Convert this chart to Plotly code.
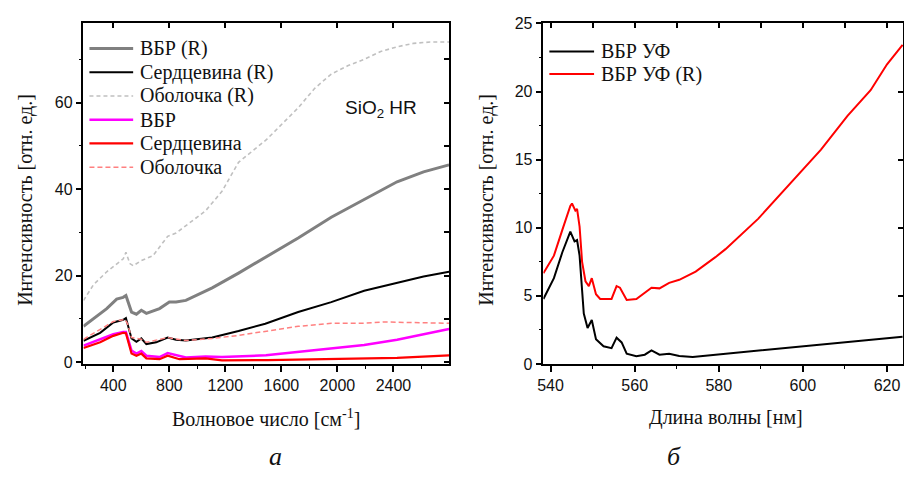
import plotly.graph_objects as go

# ---------------- Panel (a): wavenumber spectra ----------------
wn_vbr_r = [187, 259, 353, 424, 470, 490, 506, 530, 565, 600, 636, 730, 800, 848, 918, 1106, 1294, 1506, 1720, 1956, 2194, 2426, 2615, 2797]
vbr_r    = [8.3, 10.15, 12.4, 14.6, 15.0, 15.4, 13.9, 11.6, 11.1, 12.0, 11.3, 12.4, 13.9, 13.9, 14.3, 17.2, 20.6, 24.6, 28.7, 33.5, 37.6, 41.7, 44.0, 45.6]

wn_core_r = [187, 306, 400, 471, 490, 506, 530, 565, 600, 636, 706, 788, 848, 918, 1106, 1294, 1485, 1720, 1956, 2191, 2426, 2615, 2797]
core_r    = [4.96, 6.8, 9.2, 9.8, 10.2, 8.3, 5.5, 4.7, 5.5, 4.2, 4.6, 5.7, 5.2, 5.0, 5.7, 7.2, 8.9, 11.6, 13.9, 16.5, 18.3, 19.8, 20.9]

wn_clad_r = [187, 259, 353, 471, 490, 518, 542, 600, 683, 788, 848, 942, 1059, 1176, 1294, 1495, 1720, 1838, 1956, 2073, 2191, 2309, 2426, 2544, 2662, 2797]
clad_r    = [14.25, 17.95, 20.9, 23.9, 25.4, 22.8, 22.3, 23.5, 24.6, 29.1, 29.85, 32.1, 35.0, 39.5, 46.2, 51.5, 58.8, 63.3, 66.6, 68.5, 70.0, 71.8, 72.9, 73.7, 74.0, 74.0]

wn_vbr = [187, 306, 400, 471, 490, 506, 530, 565, 600, 636, 730, 788, 848, 918, 1059, 1176, 1490, 1720, 1956, 2191, 2426, 2615, 2797]
vbr    = [3.84, 5.2, 6.45, 7.0, 7.0, 5.3, 2.7, 2.0, 2.6, 1.5, 1.2, 2.1, 1.6, 1.1, 1.3, 1.2, 1.6, 2.35, 3.1, 4.0, 5.2, 6.45, 7.7]

wn_core = [187, 306, 400, 471, 490, 506, 530, 565, 600, 636, 730, 788, 872, 1059, 1176, 1500, 1956, 2426, 2797]
core    = [3.3, 4.6, 6.1, 6.8, 6.7, 4.6, 2.0, 1.5, 2.0, 0.9, 0.7, 1.5, 0.7, 0.9, 0.45, 0.5, 0.72, 1.0, 1.6]

wn_clad = [187, 306, 400, 483, 500, 530, 600, 636, 788, 918, 1106, 1294, 1495, 1720, 1956, 2191, 2333, 2545, 2797]
clad    = [5.3, 7.6, 9.4, 9.9, 9.0, 5.7, 5.3, 4.6, 5.7, 5.0, 5.5, 6.2, 7.2, 8.3, 9.0, 9.0, 9.3, 9.2, 9.0]

# ---------------- Panel (b): wavelength spectra ----------------
nm_uv = [538.3, 540.8, 542.8, 544.7, 545.7, 546.3, 546.9, 547.5, 547.9, 548.8, 549.8, 550.8, 552.6, 554.5, 555.7, 556.9, 558.1, 560.4, 562.4, 564.0, 565.9, 568.2, 570.6, 573.8, 579.2, 587.1, 600.0, 610.6, 623.7]
uv    = [4.77, 6.3, 8.2, 9.72, 9.0, 9.1, 7.95, 5.6, 3.7, 2.64, 3.23, 1.82, 1.3, 1.16, 1.93, 1.58, 0.75, 0.57, 0.68, 0.99, 0.68, 0.75, 0.59, 0.52, 0.68, 0.87, 1.3, 1.58, 2.0]

nm_uv_r = [538.3, 540.8, 542.8, 544.7, 545.1, 545.9, 546.3, 546.9, 547.5, 548.3, 549.1, 549.8, 550.8, 551.8, 554.5, 555.7, 556.5, 558.1, 560.4, 564.0, 565.9, 568.2, 570.6, 574.5, 579.2, 581.6, 589.4, 600.0, 604.3, 610.6, 616.1, 620.0, 623.7]
uv_r    = [6.66, 7.95, 9.84, 11.6, 11.78, 11.26, 11.38, 10.08, 7.5, 6.07, 5.71, 6.3, 5.12, 4.77, 4.77, 5.71, 5.6, 4.7, 4.77, 5.6, 5.55, 5.95, 6.18, 6.78, 7.84, 8.43, 10.67, 14.33, 15.74, 18.22, 20.1, 22.0, 23.42]

W, H = 904, 481
def px(x): return x / W
def py(y): return 1 - y / H

XA = [187, 2797]
YA = [-0.4, 78.3]
XB = [538.3, 623.8]
YB = [0, 25]

fig = go.Figure()
serif = "Liberation Serif"
sans = "Liberation Sans"
TXT = "#111"
FS = 20

# series: (x, y, name, color, width, dash, panel)
series = [
    (wn_vbr_r, vbr_r, "ВБР (R)", "#808080", 3, "solid", 1),
    (wn_core_r, core_r, "Сердцевина (R)", "#000000", 2, "solid", 1),
    (wn_clad_r, clad_r, "Оболочка (R)", "#c0c0c0", 1.6, "4px,3px", 1),
    (wn_vbr, vbr, "ВБР", "#ff00ff", 2.5, "solid", 1),
    (wn_core, core, "Сердцевина", "#ff0000", 2.2, "solid", 1),
    (wn_clad, clad, "Оболочка", "#ff8080", 1.5, "5px,3px", 1),
    (nm_uv, uv, "ВБР УФ", "#000000", 2, "solid", 2),
    (nm_uv_r, uv_r, "ВБР УФ (R)", "#ff0000", 2, "solid", 2),
]

leg_rows = {1: 0, 2: 0}
for x, y, name, color, width, dash, panel in series:
    xa, ya = ("x", "y") if panel == 1 else ("x2", "y2")
    fig.add_trace(go.Scatter(x=x, y=y, name=name, mode="lines",
                             line=dict(color=color, width=width, dash=dash),
                             xaxis=xa, yaxis=ya, showlegend=False))
    # hand-placed legend entry (swatch + label)
    i = leg_rows[panel]
    leg_rows[panel] += 1
    if panel == 1:
        x0, x1, tx, yy = 84, 128, 133, 42 + 24.6 * i
    else:
        x0, x1, tx, yy = 547, 592, 597, 45 + 23.5 * i
    fig.add_shape(type="line", xref="paper", yref="paper", x0=px(x0), x1=px(x1),
                  y0=py(yy), y1=py(yy), line=dict(color=color, width=width, dash=dash))
    fig.add_annotation(xref="paper", yref="paper", showarrow=False, x=px(tx), y=py(yy),
                       xanchor="left", yanchor="middle", text=name,
                       font=dict(family=serif, size=FS, color=TXT))

ydom = [py(369), py(16)]
tickfont = dict(family=sans, size=16, color=TXT)

def main_axis(dom, rng, dtick, minor_dtick, anchor):
    return dict(domain=dom, range=rng, anchor=anchor, showgrid=False, zeroline=False,
                showline=True, linecolor="black", linewidth=1.5,
                ticks="outside", ticklen=6, tickwidth=1.5, tickcolor="black",
                dtick=dtick, tick0=0, tickfont=tickfont,
                minor=dict(dtick=minor_dtick, ticks="outside", ticklen=3, tickwidth=1.2, tickcolor="black"))

def mirror_axis(rng, dtick, over, side, anchor):
    return dict(range=rng, overlaying=over, side=side, anchor=anchor, showgrid=False,
                zeroline=False, showline=True, linecolor="black", linewidth=1.5,
                ticks="inside", ticklen=5, tickwidth=1.5, tickcolor="black",
                dtick=dtick, tick0=0, showticklabels=False)

fig.update_layout(
    width=W, height=H, margin=dict(l=0, r=0, t=0, b=0),
    paper_bgcolor="white", plot_bgcolor="white",
    xaxis=main_axis([px(78), px(446)], XA, 400, 200, "y"),
    yaxis=main_axis(ydom, YA, 20, 10, "x"),
    xaxis2=main_axis([px(541), px(903)], XB, 20, 10, "y2"),
    yaxis2=main_axis(ydom, YB, 5, 2.5, "x2"),
    xaxis3=mirror_axis(XA, 400, "x", "top", "y"),
    yaxis3=mirror_axis(YA, 10, "y", "right", "x"),
    xaxis4=mirror_axis(XB, 10, "x2", "top", "y2"),
    yaxis4=mirror_axis(YB, 5, "y2", "right", "x2"),
    showlegend=False,
)

# empty traces so the mirror axes render
fig.add_trace(go.Scatter(x=[None], y=[None], xaxis="x3", yaxis="y3", showlegend=False, hoverinfo="skip"))
fig.add_trace(go.Scatter(x=[None], y=[None], xaxis="x4", yaxis="y4", showlegend=False, hoverinfo="skip"))

ann = [
    dict(text="Волновое число [см<sup>-1</sup>]", x=px(262), y=py(425), font=dict(family=serif, size=FS, color=TXT)),
    dict(text="Длина волны [нм]", x=px(725), y=py(425), font=dict(family=serif, size=FS, color=TXT)),
    dict(text="Интенсивность [отн. ед.]", x=px(20), y=py(199), textangle=-90, font=dict(family=serif, size=FS, color=TXT)),
    dict(text="Интенсивность [отн. ед.]", x=px(484), y=py(199), textangle=-90, font=dict(family=serif, size=FS, color=TXT)),
]
for a in ann:
    fig.add_annotation(xref="paper", yref="paper", showarrow=False, xanchor="center", yanchor="middle", **a)
for letter, lx in (("а", 271), ("б", 672)):
    fig.add_annotation(xref="paper", yref="paper", showarrow=False, x=px(lx), y=0,
                       xanchor="center", yanchor="bottom", borderpad=0,
                       text="<i>" + letter + "</i>", font=dict(family=serif, size=26, color=TXT))
fig.add_annotation(xref="paper", yref="paper", showarrow=False, x=px(339), y=py(105),
                   xanchor="left", yanchor="middle", text="SiO<sub>2</sub> HR",
                   font=dict(family=sans, size=19, color=TXT))

fig.write_html("out.html")
